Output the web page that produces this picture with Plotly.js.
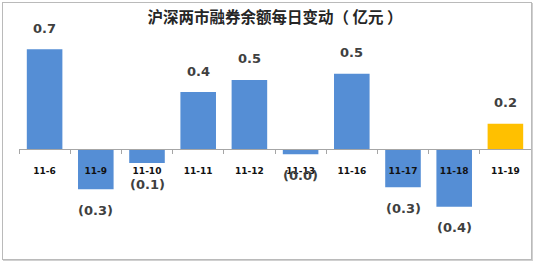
<!DOCTYPE html>
<html>
<head>
<meta charset="utf-8">
<script src="https://cdn.plot.ly/plotly-3.0.1.min.js"></script>
<style>
html,body{margin:0;padding:0;background:#fff;}
#wrap{position:relative;width:534px;height:261px;}
#chart{position:absolute;left:0;top:0;width:534px;height:261px;}
#frame{position:absolute;left:2px;top:2px;width:528px;height:256px;border:1px solid #bababa;box-shadow:1px 1px 0 #d0d0d0;pointer-events:none;}
</style>
</head>
<body>
<div id="wrap"><div id="chart"></div><div id="frame"></div></div>
<script>
const categories = ['11-6','11-9','11-10','11-11','11-12','11-13','11-16','11-17','11-18','11-19'];
const values = [0.712, -0.288, -0.10, 0.407, 0.493, -0.038, 0.538, -0.274, -0.412, 0.18];
const titleText = '沪深两市融券余额每日变动（ 亿元 ）';

const blue = '#558ED5', yellow = '#FFC000';
const colors = values.map((v, i) => i === values.length - 1 ? yellow : blue);
const labels = values.map(v => v < 0 ? '(' + Math.abs(v).toFixed(1) + ')' : v.toFixed(1));

const yMin = -0.65, yMax = 0.7786;

const annotations = values.map((v, i) => ({
  x: categories[i], y: v, xref: 'x', yref: 'y',
  text: labels[i], showarrow: false,
  yanchor: 'middle', yshift: v >= 0 ? 21 : -21,
  font: {family: 'DejaVu Sans', size: 13, weight: 'bold', color: '#404040'}
}));

Plotly.newPlot('chart', [{
  type: 'bar', x: categories, y: values,
  marker: {color: colors, line: {width: 0}},
  hoverinfo: 'none'
}], {
  width: 534, height: 261,
  margin: {l: 19, r: 3, t: 40, b: 21, pad: 0},
  paper_bgcolor: '#fff', plot_bgcolor: '#fff',
  bargap: 0.305,
  showlegend: false,
  title: {text: titleText, x: 0.5, xref: 'paper', xanchor: 'center', y: 1 - 18/261, yref: 'container', yanchor: 'middle',
    font: {family: 'Noto Sans CJK SC', size: 15.5, weight: 'bold', color: '#262626'}},
  xaxis: {type: 'category', anchor: 'free', position: (0 - yMin) / (yMax - yMin),
    showline: true, linecolor: '#a6a6a6', linewidth: 1,
    ticks: 'outside', tickson: 'boundaries', ticklen: 4, tickcolor: '#a6a6a6', tickwidth: 1,
    showgrid: false, zeroline: false, ticklabelstandoff: 13,
    tickfont: {family: 'DejaVu Sans', size: 9, weight: 'bold', color: '#111'}},
  yaxis: {range: [yMin, yMax], visible: false, showgrid: false, zeroline: false, fixedrange: true},
  annotations: annotations
}, {staticPlot: true});
</script>
</body>
</html>
